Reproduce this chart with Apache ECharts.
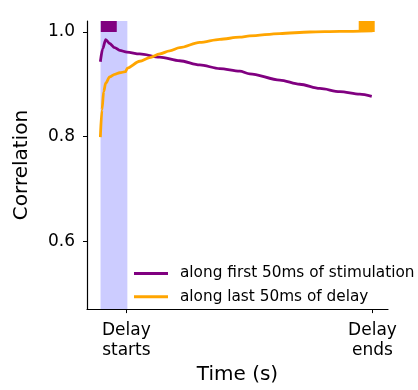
<!DOCTYPE html>
<html>
<head>
<meta charset="utf-8">
<script src="https://cdn.jsdelivr.net/npm/echarts@6/dist/echarts.min.js"></script>
<style>html,body{margin:0;padding:0;background:#fff}#c{width:418px;height:390px}</style>
</head>
<body>
<div id="c"></div>
<script>
// time in arbitrary units: 0 = delay starts, 10 = delay ends
const purpleX = [-1.057, -0.963, -0.841, -0.679, -0.476, -0.272, 0.024, 0.541, 1.354, 2.167, 2.98, 3.793, 4.606, 5.012, 6.232, 7.045, 7.858, 8.671, 9.484, 9.97];
const purpleY = [0.943, 0.968, 0.9855, 0.978, 0.970, 0.965, 0.9615, 0.958, 0.952, 0.945, 0.937, 0.930, 0.925, 0.920, 0.908, 0.900, 0.892, 0.886, 0.881, 0.877];
const orangeX = [-1.057, -0.992, -0.923, -0.841, -0.679, -0.476, -0.272, -0.041, 0.041, 0.541, 0.947, 1.354, 1.76, 2.167, 2.98, 3.793, 4.606, 5.012, 6.232, 7.45, 8.671, 10];
const orangeY = [0.799, 0.851, 0.886, 0.902, 0.914, 0.919, 0.922, 0.924, 0.931, 0.944, 0.951, 0.958, 0.964, 0.970, 0.980, 0.986, 0.990, 0.9925, 0.997, 1.0, 1.001, 1.002];
const stimWindow = [-1.05, 0.04];
const firstRef = [-1.04, -0.39];
const lastRef = [9.44, 10.09];
const yTicks = [0.6, 0.8, 1.0];
const xTicks = [0, 10];
const xTickLabels = ['Delay\nstarts', 'Delay\nends'];
const seriesNames = ['along first 50ms of stimulation', 'along last 50ms of delay'];

const zip = (xs, ys) => xs.map((x, i) => [x, ys[i]]);
const FONT = 'DejaVu Sans';

const chart = echarts.init(document.getElementById('c'), null, {renderer: 'canvas'});
chart.setOption({
  animation: false,
  grid: {left: 87, right: 30, top: 21, bottom: 80},
  legend: {
    orient: 'vertical', left: 134, top: 266, padding: 0,
    itemWidth: 34, itemHeight: 3, itemGap: 8.3, icon: 'rect',
    textStyle: {fontFamily: FONT, fontSize: 15.3, color: '#000', lineHeight: 14, padding: [0, 0, 0, 7]},
    data: seriesNames
  },
  xAxis: {
    type: 'value', min: -1.6, max: 10.63,
    name: 'Time (s)', nameLocation: 'middle', nameGap: 53,
    nameTextStyle: {fontFamily: FONT, fontSize: 20, color: '#000'},
    axisLine: {onZero: false, lineStyle: {color: '#000', width: 1.2}},
    splitLine: {show: false},
    axisTick: {customValues: xTicks, length: 4, lineStyle: {color: '#000'}},
    axisLabel: {
      customValues: xTicks, margin: 11, fontFamily: FONT, fontSize: 17, color: '#000', lineHeight: 20, align: 'center',
      formatter: v => xTickLabels[xTicks.indexOf(v)]
    }
  },
  yAxis: {
    type: 'value', min: 0.47, max: 1.021,
    name: 'Correlation', nameLocation: 'middle', nameGap: 55,
    nameTextStyle: {fontFamily: FONT, fontSize: 20, color: '#000'},
    axisLine: {show: true, onZero: false, lineStyle: {color: '#000', width: 1.2}},
    splitLine: {show: false},
    axisTick: {show: true, customValues: yTicks, length: 4, lineStyle: {color: '#000'}},
    axisLabel: {customValues: yTicks, margin: 12, fontFamily: FONT, fontSize: 17, color: '#000', formatter: v => v.toFixed(1)}
  },
  series: [
    {
      name: seriesNames[0], type: 'line', data: zip(purpleX, purpleY), symbol: 'none', smooth: 0.3, smoothMonotone: 'x',
      lineStyle: {color: '#800080', width: 2.8}, itemStyle: {color: '#800080'}, z: 3,
      markArea: {
        silent: true,
        data: [
          [{xAxis: stimWindow[0], itemStyle: {color: 'rgb(204,204,255)'}}, {xAxis: stimWindow[1]}],
          [{xAxis: firstRef[0], yAxis: 1.0, itemStyle: {color: '#800080'}}, {xAxis: firstRef[1], yAxis: 1.021}]
        ]
      }
    },
    {
      name: seriesNames[1], type: 'line', data: zip(orangeX, orangeY), symbol: 'none', smooth: 0.3, smoothMonotone: 'x',
      lineStyle: {color: '#ffa500', width: 2.8}, itemStyle: {color: '#ffa500'}, z: 4,
      markArea: {
        silent: true,
        data: [
          [{xAxis: lastRef[0], yAxis: 1.0, itemStyle: {color: '#ffa500'}}, {xAxis: lastRef[1], yAxis: 1.021}]
        ]
      }
    }
  ]
});
</script>
</body>
</html>
